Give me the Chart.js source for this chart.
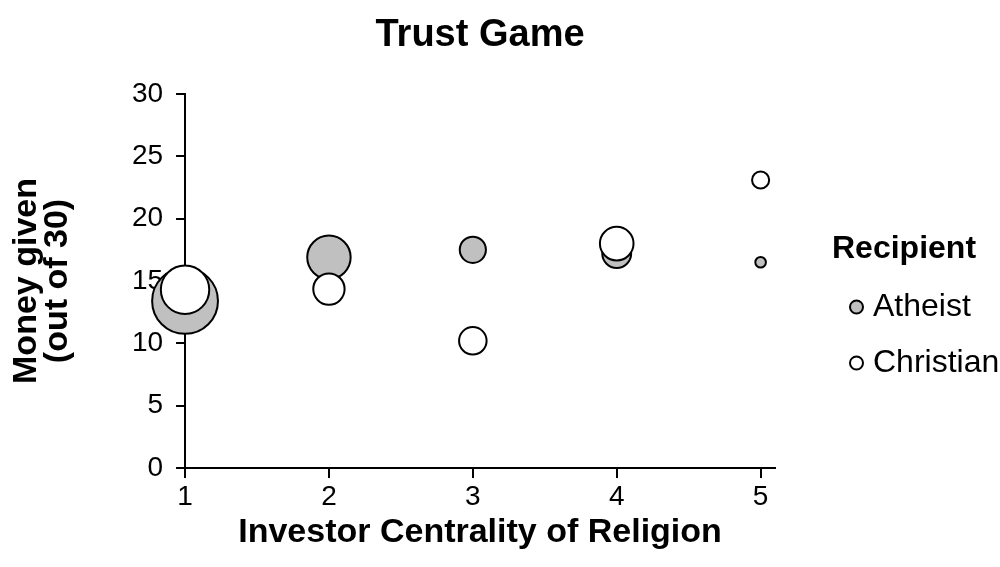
<!DOCTYPE html>
<html>
<head>
<meta charset="utf-8">
<script src="https://cdn.jsdelivr.net/npm/chart.js@4.4.1/dist/chart.umd.min.js"></script>
<style>
  html, body { margin: 0; padding: 0; background: #fff; }
</style>
</head>
<body>
<canvas id="myChart" width="1000" height="567"></canvas>
<script>
// investor centrality of religion (x) and money given (y), one value per recipient type
const centrality = [1, 2, 3, 4, 5];
const atheistGiven = [13.4, 16.9, 17.5, 17.2, 16.5];
const christianGiven = [14.3, 14.35, 10.2, 18.0, 23.1];
// relative bubble sizes (area)
const atheistSize = [29, 13, 5, 6, 1];
const christianSize = [16, 7, 5.5, 8, 2.3];
const xTicks = [1, 2, 3, 4, 5];
const yTicks = [0, 5, 10, 15, 20, 25, 30];

Chart.defaults.font.family = "'Liberation Sans', Arial, sans-serif";
Chart.defaults.color = "#000";

function bubbleRadius(size) {
  return 6.3 * Math.sqrt(size) - 1;
}
function points(ys, sizes) {
  return centrality.map((x, i) => ({ x: x, y: ys[i], r: bubbleRadius(sizes[i]) }));
}

var ctx = document.getElementById("myChart").getContext("2d");
var myChart = new Chart(ctx, {
  type: "bubble",
  data: {
    datasets: [
      {
        label: "Atheist",
        data: points(atheistGiven, atheistSize),
        backgroundColor: "#c0c0c0",
        borderColor: "#000",
        borderWidth: 2,
        order: 1,
        clip: false,
        xAxisID: "x",
        yAxisID: "y",
      },
      {
        label: "Christian",
        data: points(christianGiven, christianSize),
        backgroundColor: "#fff",
        borderColor: "#000",
        borderWidth: 2,
        order: 0,
        clip: false,
        xAxisID: "x",
        yAxisID: "y",
      },
    ],
  },
  options: {
    responsive: false,
    animation: false,
    events: [],
    layout: { padding: 0 },
    plugins: {
      tooltip: { enabled: false },
      title: {
        display: true,
        text: "Trust Game",
        fullSize: false,
        color: "#000",
        font: { size: 38, weight: "bold", lineHeight: 1.2 },
        padding: { top: 13, bottom: 35.4 },
      },
      legend: {
        position: "right",
        align: "center",
        maxWidth: 168,
        labels: {
          usePointStyle: true,
          pointStyle: "circle",
          boxWidth: 1,
          boxHeight: 9.2,
          padding: 24,
          color: "#000",
          font: { size: 32 },
          sort: (a, b) => a.datasetIndex - b.datasetIndex,
        },
        title: {
          display: true,
          text: "Recipient",
          position: "start",
          color: "#000",
          font: { size: 32, weight: "bold", lineHeight: 1 },
          padding: { top: 69, bottom: 2 },
        },
      },
    },
    scales: {
      x: {
        type: "linear",
        position: "bottom",
        min: 1,
        max: 5.1,
        afterBuildTicks: (axis) => {
          axis.ticks = xTicks.map((v) => ({ value: v }));
        },
        ticks: { font: { size: 28, lineHeight: 1 }, padding: 5, maxRotation: 0, autoSkip: false },
        grid: { drawOnChartArea: false, drawTicks: true, tickLength: 10, color: "#000", lineWidth: 2 },
        border: { display: true, color: "#000", width: 2 },
        title: {
          display: true,
          text: "Investor Centrality of Religion",
          font: { size: 34, weight: "bold", lineHeight: 1 },
          padding: { top: 0, bottom: 17 },
        },
      },
      y: {
        type: "linear",
        position: "left",
        min: 0,
        max: 30,
        afterBuildTicks: (axis) => {
          axis.ticks = yTicks.map((v) => ({ value: v }));
        },
        ticks: { font: { size: 28 }, padding: 13 },
        grid: { drawOnChartArea: false, drawTicks: true, tickLength: 9, color: "#000", lineWidth: 2 },
        border: { display: true, color: "#000", width: 2 },
        title: {
          display: true,
          text: ["Money given", "(out of 30)"],
          font: { size: 34, weight: "bold", lineHeight: 0.9 },
          padding: { top: 11.7, bottom: 46 },
        },
      },
      // hidden spacer between plot and legend
      gap: {
        type: "linear",
        position: "right",
        display: false,
        afterFit: (scale) => {
          scale.width = 57;
        },
      },
    },
  },
});
</script>
</body>
</html>
